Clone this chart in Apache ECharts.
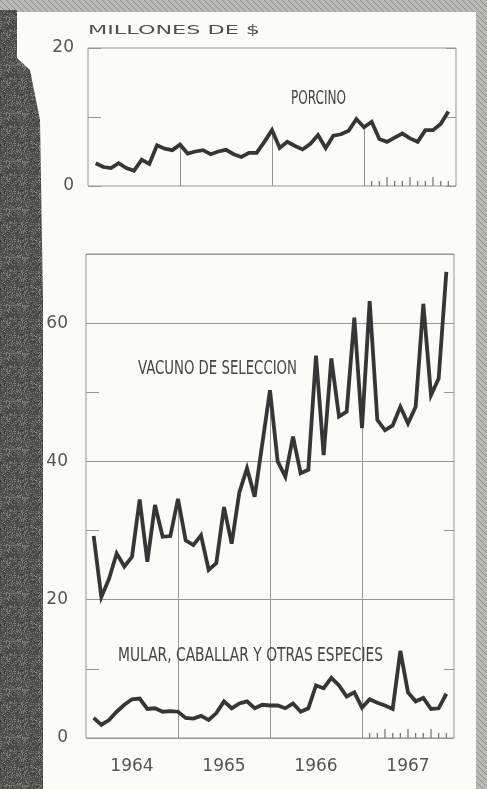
<!DOCTYPE html>
<html><head><meta charset="utf-8">
<script src="https://cdn.jsdelivr.net/npm/echarts@6/dist/echarts.min.js"></script>
<style>html,body{margin:0;padding:0;background:#fbfbf8}#c{width:487px;height:789px}</style>
</head><body><div id="c"></div>
<script>
// ---- DATA (monthly values, millones de $; point k = end of month k, Jan 1964 = 1) ----
const yearLabels = ['1964', '1965', '1966', '1967'];
const porcino = [3.3, 2.75, 2.6, 3.3, 2.6, 2.2, 3.8, 3.2, 5.9, 5.4, 5.2, 6.0,
  4.7, 5.0, 5.2, 4.6, 5.0, 5.25, 4.6, 4.2, 4.8, 4.8, 6.4, 8.1,
  5.5, 6.4, 5.8, 5.3, 6.1, 7.4, 5.5, 7.3, 7.5, 8.0, 9.7, 8.5,
  9.3, 6.8, 6.4, 7.0, 7.6, 6.9, 6.4, 8.1, 8.1, 9.0, 10.8];
const vacuno = [29.2, 20.4, 23.0, 26.7, 24.8, 26.2, 34.5, 25.5, 33.7, 29.1, 29.2, 34.6,
  28.6, 27.9, 29.3, 24.3, 25.3, 33.4, 28.1, 35.5, 39.0, 34.9, 42.6, 50.3,
  40.0, 37.8, 43.6, 38.3, 38.8, 55.3, 40.9, 54.9, 46.5, 47.2, 60.8, 44.8,
  63.2, 46.0, 44.5, 45.2, 47.9, 45.5, 47.9, 62.8, 49.6, 52.0, 67.4];
const mular = [2.9, 1.9, 2.6, 3.8, 4.8, 5.6, 5.7, 4.2, 4.3, 3.8, 3.9, 3.8,
  2.9, 2.8, 3.2, 2.6, 3.6, 5.3, 4.3, 5.0, 5.3, 4.3, 4.8, 4.7,
  4.7, 4.3, 5.0, 3.8, 4.3, 7.6, 7.2, 8.7, 7.6, 6.0, 6.6, 4.4,
  5.6, 5.1, 4.7, 4.2, 12.6, 6.6, 5.3, 5.8, 4.2, 4.3, 6.4];
const yearEnds = [12, 24, 36];                 // drop lines at year boundaries
const tickMonths1967 = [37, 38, 39, 40, 41, 42, 43, 44, 45, 46, 47];
const tallTicks = [39, 42, 45];
const seriesNames = ['PORCINO', 'VACUNO DE SELECCION', 'MULAR, CABALLAR Y OTRAS ESPECIES'];
const unitTitle = 'MILLONES DE $';

// ---- helpers ----
const toXY = arr => arr.map((v, i) => [i + 1, v]);
const mc = document.createElement('canvas').getContext('2d');
function fit(str, font, w) { mc.font = font; return w / mc.measureText(str).width; }
function hatch() {
  const c = document.createElement('canvas'); c.width = 6; c.height = 6;
  const g = c.getContext('2d'); g.fillStyle = '#b9b9b6'; g.fillRect(0, 0, 6, 6);
  g.strokeStyle = '#8e8e8c'; g.lineWidth = 1;
  g.beginPath(); g.moveTo(0, 0); g.lineTo(6, 6); g.stroke(); return c;
}
function texture() {
  const c = document.createElement('canvas'); c.width = 48; c.height = 48;
  const g = c.getContext('2d'); g.fillStyle = '#4f4f4c'; g.fillRect(0, 0, 48, 48);
  for (let y = 0; y < 48; y++) for (let x = 0; x < 48; x++) {
    const h = ((x * 2654435761) ^ (y * 40503) ^ (x * y * 97)) >>> 0;
    const v = 50 + (h % 90);
    g.fillStyle = 'rgb(' + v + ',' + v + ',' + (v - 2) + ')';
    if ((h >> 3) % 2 === 0) g.fillRect(x, y, 1, 1);
  }
  return c;
}
const lineCol = '#363636', gridCol = '#969696', txtCol = '#454545';

function dropLines(arr) {
  return {
    silent: true, symbol: ['none', 'none'], label: { show: false },
    lineStyle: { color: gridCol, width: 1, type: 'solid' },
    data: yearEnds.map(m => [{ coord: [m, 0] }, { coord: [m, arr[m - 1]] }])
  };
}
function tickSeries(xi, yi) {
  return {
    type: 'custom', xAxisIndex: xi, yAxisIndex: yi, silent: true,
    data: tickMonths1967.map(m => [m, 0]),
    renderItem: (params, api) => {
      const p = api.coord([api.value(0), 0]);
      const len = tallTicks.indexOf(api.value(0)) >= 0 ? 9 : 5;
      return { type: 'line', shape: { x1: p[0], y1: p[1], x2: p[0], y2: p[1] - len },
        style: { stroke: '#707070', lineWidth: 1.2 } };
    }
  };
}
function lineSeries(arr, xi, yi, extra) {
  return Object.assign({
    type: 'line', xAxisIndex: xi, yAxisIndex: yi, data: toXY(arr),
    showSymbol: false, symbol: 'none', silent: true, z: 5,
    lineStyle: { color: lineCol, width: 3.8, join: 'miter', miterLimit: 4 }
  }, extra || {});
}
const tickStyle = { color: gridCol, width: 1 };
const labFont = { fontFamily: 'DejaVu Sans', fontSize: 17, color: '#555' };

const titleFont = '13px "DejaVu Sans"';
const lblFont = '20px "DejaVu Sans Condensed", "DejaVu Sans"';

const chart = echarts.init(document.getElementById('c'), null, { renderer: 'canvas' });
chart.setOption({
  animation: false,
  backgroundColor: '#fbfbf8',
  graphic: [
    { type: 'rect', z: -10, shape: { x: 0, y: 0, width: 487, height: 12 }, style: { fill: { image: hatch(), repeat: 'repeat' } } },
    { type: 'rect', z: -10, shape: { x: 476, y: 0, width: 11, height: 789 }, style: { fill: { image: hatch(), repeat: 'repeat' } } },
    { type: 'polygon', z: -9, shape: { points: [[0, 10], [17, 10], [17, 58], [30, 70], [40, 120], [43, 300], [43, 789], [0, 789]] },
      style: { fill: { image: texture(), repeat: 'repeat' } } },
    { type: 'text', z: 50, x: 88, y: 30.5, scaleX: fit(unitTitle, titleFont, 172),
      style: { text: unitTitle, font: titleFont, fill: '#505050', verticalAlign: 'middle', align: 'left' } },
    { type: 'text', z: 50, x: 291, y: 99, scaleX: fit(seriesNames[0], lblFont, 55),
      style: { text: seriesNames[0], font: lblFont, fill: txtCol, verticalAlign: 'middle', align: 'left' } },
    { type: 'text', z: 50, x: 138, y: 368.5, scaleX: fit(seriesNames[1], lblFont, 159),
      style: { text: seriesNames[1], font: lblFont, fill: txtCol, verticalAlign: 'middle', align: 'left' } },
    { type: 'text', z: 50, x: 118, y: 655.5, scaleX: fit(seriesNames[2], lblFont, 265),
      style: { text: seriesNames[2], font: lblFont, fill: txtCol, verticalAlign: 'middle', align: 'left' } }
  ],
  grid: [
    { left: 88, top: 48, width: 368, height: 138, show: true, borderColor: gridCol, borderWidth: 1 },
    { left: 86, top: 254, width: 368, height: 484, show: true, borderColor: gridCol, borderWidth: 1 }
  ],
  xAxis: [
    { gridIndex: 0, type: 'value', min: 0, max: 48, interval: 6, axisLine: { show: false },
      axisTick: { show: false }, axisLabel: { show: false }, splitLine: { show: false } },
    { gridIndex: 1, type: 'value', min: 0, max: 48, interval: 6, axisLine: { show: false },
      axisTick: { show: false }, splitLine: { show: false },
      axisLabel: Object.assign({ margin: 20, formatter: v => (v % 12 === 6 ? yearLabels[(v - 6) / 12] : '') }, labFont) }
  ],
  yAxis: [
    { gridIndex: 0, type: 'value', position: 'left', min: 0, max: 20, interval: 10,
      axisLine: { show: false }, splitLine: { show: false },
      axisTick: { show: true, inside: true, length: 13, lineStyle: tickStyle },
      axisLabel: Object.assign({ margin: 14, formatter: v => (v === 10 ? '' : String(v)) }, labFont) },
    { gridIndex: 0, type: 'value', position: 'right', min: 0, max: 20, interval: 10,
      axisLine: { show: false }, splitLine: { show: false }, axisLabel: { show: false },
      axisTick: { show: true, inside: true, length: 10, lineStyle: tickStyle } },
    { gridIndex: 1, type: 'value', position: 'left', min: 0, max: 70, interval: 10,
      axisLine: { show: false }, splitLine: { show: false },
      axisTick: { show: true, inside: true, length: 13, lineStyle: tickStyle },
      axisLabel: Object.assign({ margin: 18, formatter: v => (v % 20 === 0 ? String(v) : '') }, labFont) },
    { gridIndex: 1, type: 'value', position: 'right', min: 0, max: 70, interval: 10,
      axisLine: { show: false }, splitLine: { show: false }, axisLabel: { show: false },
      axisTick: { show: true, inside: true, length: 10, lineStyle: tickStyle } },
    { gridIndex: 1, type: 'value', position: 'left', min: 0, max: 70, interval: 20,
      axisLine: { show: false }, axisTick: { show: false }, axisLabel: { show: false },
      splitLine: { show: true, lineStyle: { color: gridCol, width: 1 } } }
  ],
  series: [
    lineSeries(porcino, 0, 0, { name: seriesNames[0], markLine: dropLines(porcino) }),
    lineSeries(vacuno, 1, 2, { name: seriesNames[1], markLine: dropLines(vacuno) }),
    lineSeries(mular, 1, 2, { name: seriesNames[2] }),
    tickSeries(0, 0),
    tickSeries(1, 2)
  ]
});
</script></body></html>
